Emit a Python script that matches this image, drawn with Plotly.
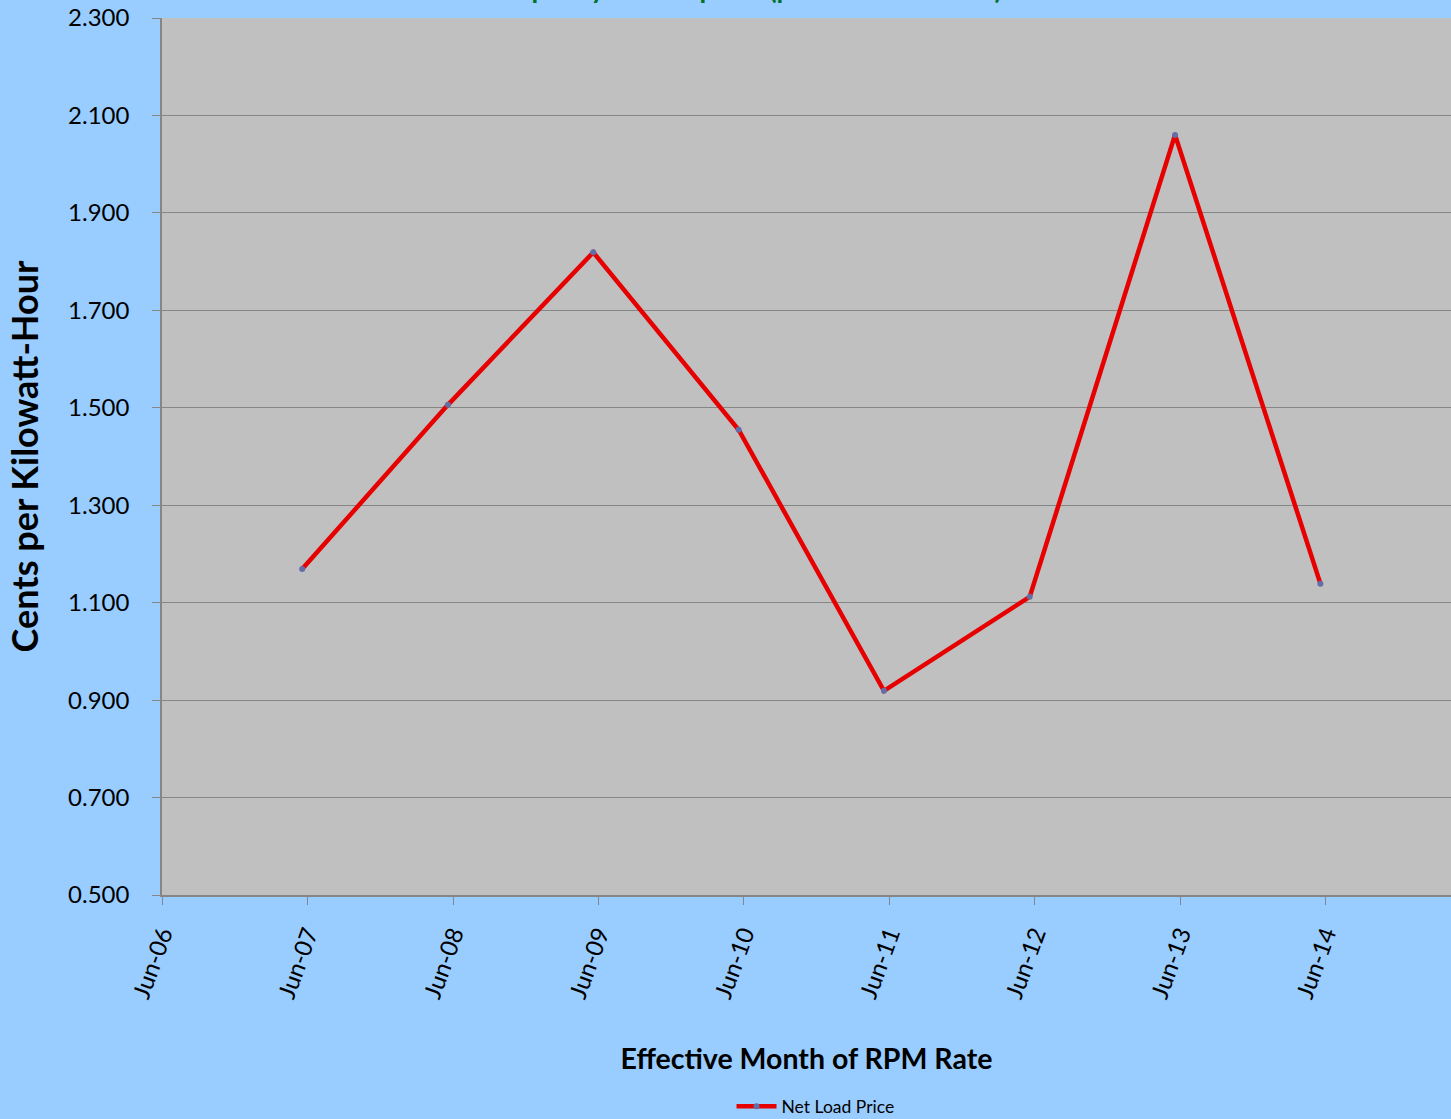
import plotly.graph_objects as go

# Data
dates = ["2007-05-19", "2008-05-19", "2009-05-19", "2010-05-19",
         "2011-05-19", "2012-05-19", "2013-05-19", "2014-05-19"]
net_load_price = [1.169, 1.506, 1.819, 1.455, 0.919, 1.112, 2.060, 1.139]
series_name = "Net Load Price"
title_text = "Capacity Price Option (per Kilowatt-Hour)"
x_title = "Effective Month of RPM Rate"
y_title = "Cents per Kilowatt-Hour"

FONT = "Lato, 'Open Sans', sans-serif"

fig = go.Figure()
fig.add_trace(go.Scatter(
    x=dates, y=net_load_price, name=series_name, mode="lines+markers",
    line=dict(color="#E60000", width=4.5),
    marker=dict(color="#646EA6", size=6),
))

fig.update_layout(
    width=1451, height=1119,
    margin=dict(l=162, r=0, t=18, b=224, pad=0, autoexpand=False),
    paper_bgcolor="#99CCFF",
    plot_bgcolor="#C0C0C0",
    font=dict(family=FONT, color="black", size=24),
    showlegend=True,
    legend=dict(orientation="h", xref="paper", x=0.507, xanchor="center",
                yref="paper", y=-0.241, yanchor="middle",
                font=dict(family=FONT, size=17.5, color="black"),
                bgcolor="rgba(0,0,0,0)", itemwidth=40, tracegroupgap=0),
)

# Chart title, mostly above the top edge of the page as in the reference
fig.add_annotation(
    text=title_text, xref="paper", x=0.457, xanchor="center",
    yref="paper", y=1.0125, yanchor="bottom", showarrow=False,
    font=dict(family=FONT, size=27, color="#00722E", weight="bold"),
)

fig.update_xaxes(
    type="date", range=["2006-06-01", "2015-04-12"],
    tick0="2006-06-01", dtick="M12", tickformat="%b-%y",
    tickangle=-70, ticks="outside", ticklen=8, tickcolor="#868686",
    ticklabelstandoff=6, automargin=False,
    showline=True, linecolor="#868686", linewidth=1.5,
    showgrid=False, zeroline=False,
    tickfont=dict(family=FONT, size=24, color="black"),
    title=dict(text=x_title, standoff=48,
               font=dict(family=FONT, size=28.5, color="black", weight="bold")),
)
fig.update_yaxes(
    range=[0.5, 2.3], tick0=0.5, dtick=0.2, tickformat=".3f",
    ticks="outside", ticklen=8, tickcolor="#868686",
    ticklabelstandoff=18, automargin=False,
    showline=True, linecolor="#868686", linewidth=1.5,
    showgrid=True, gridcolor="#868686", gridwidth=1.2, zeroline=False,
    tickfont=dict(family=FONT, size=24, color="black"),
    title=dict(text=y_title, standoff=18,
               font=dict(family=FONT, size=36, color="black", weight="bold")),
)

fig.write_html("out.html")
